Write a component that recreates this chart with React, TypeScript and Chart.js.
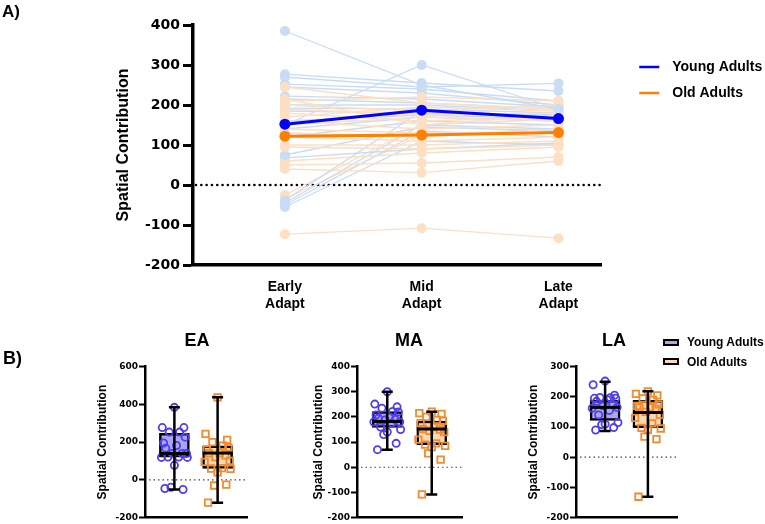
import React, { useEffect, useRef } from 'react';
import { Chart, registerables } from 'chart.js';

Chart.register(...registerables);

// ---------- Panel A data ----------
const PHASE_LABELS = [['Early', 'Adapt'], ['Mid', 'Adapt'], ['Late', 'Adapt']];
const A_Y_MIN = -200;
const A_Y_MAX = 400;
const A_Y_STEP = 100;

const YOUNG_EA = [385, 277, 270, 252, 245, 222, 215, 200, 192, 185, 160, 150, 140, 120, 75, 68, -38, -45, -50, -55];
const YOUNG_MA = [250, 255, 245, 240, 230, 215, 205, 200, 190, 180, 175, 300, 170, 160, 145, 90, 185, 150, 135, 110];
const YOUNG_LA = [190, 235, 254, 210, 200, 195, 190, 185, 180, 175, 165, 190, 160, 150, 135, 105, 170, 140, 120, 100];

const OLD_EA = [245, 215, 210, 200, 190, 180, 170, 160, 150, 140, 130, 120, 100, 95, 60, 50, 40, -25, -35, -123];
const OLD_MA = [205, 150, 220, 185, 175, 160, 195, 140, 170, 130, 120, 110, 100, 90, 80, 55, 31, 150, 125, -108];
const OLD_LA = [190, 175, 210, 200, 180, 170, 185, 150, 160, 130, 140, 120, 110, 100, 95, 70, 60, 165, 140, -133];

const YOUNG_MEAN = [152, 187, 166];
const OLD_MEAN = [122, 125, 131];

// ---------- Panel B data ----------
const B_EA_YOUNG = [384, 277, 277, 253, 253, 226, 195, 182, 168, 140, 140, 140, 119, 121, 121, 119, 77, -39, -51, -46];
const B_EA_OLD = [437, 244, 212, 200, 181, 170, 160, 142, 142, 130, 120, 100, 95, 62, 60, 58, 40, -30, -25, -121];
const B_MA_YOUNG = [300, 251, 240, 235, 222, 220, 208, 200, 195, 190, 188, 180, 180, 175, 160, 150, 140, 130, 95, 70];
const B_MA_OLD = [221, 215, 212, 200, 188, 184, 175, 160, 152, 150, 145, 140, 110, 95, 90, 85, 80, 55, 30, -108];
const B_LA_YOUNG = [252, 240, 205, 198, 197, 195, 195, 190, 185, 175, 170, 165, 162, 155, 140, 115, 110, 108, 98, 90];
const B_LA_OLD = [218, 210, 205, 195, 190, 175, 170, 165, 165, 160, 150, 140, 130, 112, 97, 95, 90, 68, 60, -131];

// box stats: [min, q1, median, q3, max]
const BOX_EA_YOUNG = [-51, 120, 140, 247, 384];
const BOX_EA_OLD = [-121, 60, 142, 180, 437];
const BOX_MA_YOUNG = [70, 158, 182, 221, 300];
const BOX_MA_OLD = [-108, 90, 152, 184, 221];
const BOX_LA_YOUNG = [87, 122, 165, 188, 250];
const BOX_LA_OLD = [-131, 98, 148, 188, 218];

const GROUP_LABELS = ['Young Adults', 'Old Adults'];

// horizontal scatter offsets (style only)
const JITTER = [0, -0.28, 0.22, -0.12, 0.12, 0.25, -0.25, 0.05, -0.2, 0.18, -0.05, 0.28, -0.3, 0.1, -0.15, 0.3, 0, -0.08, 0.2, -0.22];

// ---------- styles ----------
const FONT = "'Liberation Sans', Arial, Helvetica, sans-serif";
const TICK_FONT = "'DejaVu Sans', 'Liberation Sans', sans-serif";
const BLUE = '#0000ff';
const ORANGE = '#ff7f00';
const LIGHT_BLUE = '#c8dcf6';
const LIGHT_ORANGE = '#fddfc3';
const Y_FILL = '#a9a6f6';
const O_FILL = '#fcd9b3';
const Y_MARK = '#4f3ef0';
const O_MARK = '#f28a2e';

const zeroLine = {
  id: 'zeroLine',
  beforeDatasetsDraw(chart: any, _a: any, opts: any) {
    const y = chart.scales.y.getPixelForValue(0);
    const { left, right } = chart.chartArea;
    const ctx = chart.ctx;
    ctx.save();
    ctx.strokeStyle = opts.color;
    ctx.lineWidth = opts.width;
    ctx.setLineDash(opts.dash);
    ctx.lineCap = opts.cap;
    ctx.beginPath();
    ctx.moveTo(left + opts.startGap, y);
    ctx.lineTo(right, y);
    ctx.stroke();
    ctx.restore();
  },
};

const whiskers = {
  id: 'whiskers',
  afterDatasetsDraw(chart: any, _a: any, opts: any) {
    const xs = chart.scales.x;
    const ys = chart.scales.y;
    const ctx = chart.ctx;
    (opts.boxes || []).forEach((b: number[], i: number) => {
      const cx = xs.getPixelForValue(i);
      const [mn, , md, , mx] = b;
      ctx.save();
      ctx.strokeStyle = '#000';
      ctx.lineWidth = 2.5;
      ctx.beginPath();
      ctx.moveTo(cx, ys.getPixelForValue(mx));
      ctx.lineTo(cx, ys.getPixelForValue(mn));
      ctx.moveTo(cx - 5.5, ys.getPixelForValue(mx));
      ctx.lineTo(cx + 5.5, ys.getPixelForValue(mx));
      ctx.moveTo(cx - 5.5, ys.getPixelForValue(mn));
      ctx.lineTo(cx + 5.5, ys.getPixelForValue(mn));
      ctx.stroke();
      ctx.lineWidth = 3;
      ctx.beginPath();
      ctx.moveTo(cx - opts.half, ys.getPixelForValue(md));
      ctx.lineTo(cx + opts.half, ys.getPixelForValue(md));
      ctx.stroke();
      ctx.restore();
    });
  },
};

function lineIcon(color: string) {
  const c = document.createElement('canvas');
  c.width = 52;
  c.height = 6;
  const g = c.getContext('2d') as CanvasRenderingContext2D;
  g.strokeStyle = color;
  g.lineWidth = 2.5;
  g.beginPath();
  g.moveTo(26, 3);
  g.lineTo(46, 3);
  g.stroke();
  return c;
}

function PanelA() {
  const ref = useRef<HTMLCanvasElement>(null);
  useEffect(() => {
    const icons = [lineIcon(BLUE), lineIcon(ORANGE)];
    const indiv: any[] = [];
    for (let i = 0; i < YOUNG_EA.length; i++) {
      indiv.push({
        label: 'young-' + i,
        data: [{ x: 0, y: YOUNG_EA[i] }, { x: 1, y: YOUNG_MA[i] }, { x: 2, y: YOUNG_LA[i] }],
        borderColor: LIGHT_BLUE, backgroundColor: LIGHT_BLUE, borderWidth: 1.3,
        pointRadius: 5, pointBorderWidth: 0,
      });
      if (i < OLD_EA.length) {
        indiv.push({
          label: 'old-' + i,
          data: [{ x: 0, y: OLD_EA[i] }, { x: 1, y: OLD_MA[i] }, { x: 2, y: OLD_LA[i] }],
          borderColor: LIGHT_ORANGE, backgroundColor: LIGHT_ORANGE, borderWidth: 1.3,
          pointRadius: 5, pointBorderWidth: 0,
        });
      }
    }
    const chart = new Chart(ref.current as HTMLCanvasElement, {
      type: 'line',
      data: {
        datasets: [
          {
            label: GROUP_LABELS[0],
            data: YOUNG_MEAN.map((v, i) => ({ x: i, y: v })),
            borderColor: BLUE, backgroundColor: BLUE, borderWidth: 3,
            pointRadius: 5.5, pointBorderWidth: 0,
          },
          {
            label: GROUP_LABELS[1],
            data: OLD_MEAN.map((v, i) => ({ x: i, y: v })),
            borderColor: ORANGE, backgroundColor: ORANGE, borderWidth: 3,
            pointRadius: 5.5, pointBorderWidth: 0,
          },
          ...indiv,
        ],
      },
      options: {
        responsive: false,
        animation: false,
        events: [],
        layout: { padding: { left: 110, top: 25, right: 0, bottom: 0 } },
        scales: {
          x: {
            type: 'linear',
            min: -0.672,
            max: 2.313,
            afterBuildTicks: (s: any) => { s.ticks = [0, 1, 2].map((v) => ({ value: v })); },
            afterFit: (s: any) => { s.height = 50; },
            ticks: {
              callback: (v: any) => PHASE_LABELS[v as number] || '',
              font: { family: FONT, size: 14, weight: 'bold' },
              color: '#000',
              padding: 14,
              maxRotation: 0,
              autoSkip: false,
            },
            grid: { display: false, drawTicks: false },
            border: { display: true, color: '#000', width: 3.5 },
          },
          y: {
            type: 'linear',
            min: A_Y_MIN,
            max: A_Y_MAX,
            afterFit: (s: any) => { s.width = 83; },
            ticks: {
              stepSize: A_Y_STEP,
              font: { family: TICK_FONT, size: 14, weight: 'bold' },
              color: '#000',
              padding: 3,
            },
            grid: { display: true, drawOnChartArea: false, drawTicks: true, tickLength: 10, tickWidth: 3, tickColor: '#000' },
            border: { display: true, color: '#000', width: 3.5 },
            title: {
              display: true,
              text: 'Spatial Contribution',
              font: { family: FONT, size: 16, weight: 'bold' },
              color: '#000',
              padding: { top: 4, bottom: 4 },
            },
          },
        },
        plugins: {
          tooltip: { enabled: false },
          zeroLine: { color: '#000', width: 2.6, dash: [0.01, 5.3], cap: 'round', startGap: 3 },
          legend: {
            display: true,
            position: 'right',
            align: 'start',
            title: { display: true, text: '', padding: { top: 0, bottom: 8.6 }, font: { size: 12 } },
            labels: {
              usePointStyle: true,
              pointStyleWidth: 52,
              padding: 12,
              color: '#000',
              font: { family: FONT, size: 14, weight: 'bold' },
              generateLabels: (ch: any) => {
                const base = (Chart.defaults.plugins.legend.labels as any).generateLabels(ch);
                return base
                  .filter((it: any) => it.datasetIndex < 2)
                  .map((it: any) => ({ ...it, pointStyle: icons[it.datasetIndex] }));
              },
            },
          },
        } as any,
      },
      plugins: [zeroLine],
    } as any);
    return () => chart.destroy();
  }, []);
  return (
    <canvas ref={ref} width={765} height={315}
      style={{ position: 'absolute', left: 0, top: 0, width: 765, height: 315 }} />
  );
}

function BoxPanel(props: any) {
  const ref = useRef<HTMLCanvasElement>(null);
  const { title, left, width, axisW, padR, yMin, yMax, yStep, young, old, boxY, boxO } = props;
  useEffect(() => {
    const chart = new Chart(ref.current as HTMLCanvasElement, {
      type: 'scatter',
      data: {
        datasets: [
          {
            type: 'scatter',
            label: GROUP_LABELS[0],
            data: young.map((v: number, i: number) => ({ x: 0 + JITTER[i % JITTER.length], y: v })),
            pointStyle: 'circle',
            pointRadius: 3.6,
            borderColor: Y_MARK,
            backgroundColor: 'rgba(0,0,0,0)',
            pointBorderWidth: 1.8,
          },
          {
            type: 'scatter',
            label: GROUP_LABELS[1],
            data: old.map((v: number, i: number) => ({ x: 1 + JITTER[i % JITTER.length], y: v })),
            pointStyle: 'rect',
            pointRadius: 4.6,
            borderColor: O_MARK,
            backgroundColor: 'rgba(0,0,0,0)',
            pointBorderWidth: 1.8,
          },
          {
            type: 'bar',
            label: 'box',
            data: [{ x: 0, y: [boxY[1], boxY[3]] }, { x: 1, y: [boxO[1], boxO[3]] }],
            backgroundColor: [Y_FILL, O_FILL],
            borderColor: '#000',
            borderWidth: 2.5,
            borderSkipped: false,
            barThickness: 30,
          },
        ],
      },
      options: {
        responsive: false,
        animation: false,
        events: [],
        layout: { padding: 0 },
        scales: {
          x: {
            type: 'linear',
            offset: false,
            min: -0.68,
            max: 1.68,
            afterFit: (s: any) => { s.height = 6; },
            ticks: { display: false },
            grid: { display: false, drawTicks: false, offset: false },
            border: { display: true, color: '#000', width: 2.5 },
          },
          y: {
            type: 'linear',
            min: yMin,
            max: yMax,
            afterFit: (s: any) => { s.width = axisW; },
            ticks: {
              stepSize: yStep,
              font: { family: TICK_FONT, size: 9, weight: 'bold' },
              color: '#000',
              padding: 1,
            },
            grid: { display: true, drawOnChartArea: false, drawTicks: true, tickLength: 6, tickWidth: 2, tickColor: '#000' },
            border: { display: true, color: '#000', width: 2.5 },
            title: {
              display: true,
              text: 'Spatial Contribution',
              font: { family: FONT, size: 12, weight: 'bold' },
              color: '#000',
              padding: { top: 4, bottom: 2 },
            },
          },
          pad: {
            type: 'linear',
            position: 'right',
            display: true,
            afterFit: (s: any) => { s.width = padR; },
            ticks: { display: false },
            grid: { display: false, drawTicks: false },
            border: { display: false },
          },
        },
        plugins: {
          tooltip: { enabled: false },
          legend: { display: false },
          title: {
            display: true,
            text: title,
            font: { family: FONT, size: 18, weight: 'bold' },
            color: '#000',
            padding: { top: 10, bottom: 15 },
          },
          zeroLine: { color: '#444', width: 1.2, dash: [1.5, 3], cap: 'butt', startGap: 4 },
          whiskers: { boxes: [boxY, boxO], half: 15 },
        } as any,
      },
      plugins: [zeroLine, whiskers],
    } as any);
    return () => chart.destroy();
  }, []);
  return (
    <canvas ref={ref} width={width} height={204}
      style={{ position: 'absolute', left, top: 320, width, height: 204 }} />
  );
}

export default function App() {
  const labelStyle: any = { position: 'absolute', font: `bold 17px ${FONT}`, lineHeight: '17px', color: '#000' };
  const legText: any = { position: 'absolute', font: `bold 12px ${FONT}`, lineHeight: '16px', color: '#000', whiteSpace: 'nowrap' };
  const sw: any = { position: 'absolute', width: 16, height: 7, border: '2px solid #000', boxSizing: 'border-box' };
  return (
    <div style={{ position: 'fixed', left: 0, top: 0, width: 765, height: 524, background: '#fff', overflow: 'hidden' }}>
      <PanelA />
      <BoxPanel title="EA" left={91} width={212} axisW={54} padR={56} yMin={-200} yMax={600} yStep={200}
        young={B_EA_YOUNG} old={B_EA_OLD} boxY={BOX_EA_YOUNG} boxO={BOX_EA_OLD} />
      <BoxPanel title="MA" left={307} width={204} axisW={50} padR={49} yMin={-200} yMax={400} yStep={100}
        young={B_MA_YOUNG} old={B_MA_OLD} boxY={BOX_MA_YOUNG} boxO={BOX_MA_OLD} />
      <BoxPanel title="LA" left={522} width={184} axisW={54} padR={29} yMin={-200} yMax={300} yStep={100}
        young={B_LA_YOUNG} old={B_LA_OLD} boxY={BOX_LA_YOUNG} boxO={BOX_LA_OLD} />
      <div style={{ ...labelStyle, left: 2, top: 3 }}>A)</div>
      <div style={{ ...labelStyle, left: 3, top: 349, fontSize: 18, lineHeight: '18px' }}>B)</div>
      <div style={{ ...sw, left: 663, top: 339, background: Y_FILL }} />
      <div style={{ ...legText, left: 687, top: 334 }}>{GROUP_LABELS[0]}</div>
      <div style={{ ...sw, left: 663, top: 358, background: O_FILL }} />
      <div style={{ ...legText, left: 687, top: 354 }}>{GROUP_LABELS[1]}</div>
    </div>
  );
}
